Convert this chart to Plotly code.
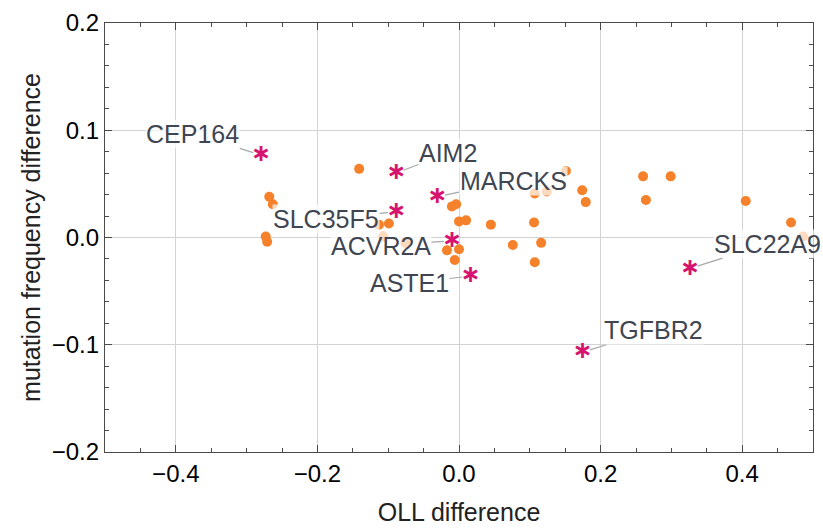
import plotly.graph_objects as go

# background genes (orange dots)
bg_x = [-0.141, -0.268, -0.263, -0.273, -0.271, -0.113, -0.099, -0.107, -0.076,
        -0.010, -0.004, 0.000, 0.010, 0.045, -0.017, 0.000, -0.006, 0.106, 0.076,
        0.116, 0.107, 0.151, 0.124, 0.107, 0.174, 0.179, 0.260, 0.299, 0.264,
        0.405, 0.469, 0.486]
bg_y = [0.064, 0.038, 0.031, 0.001, -0.004, 0.012, 0.013, 0.001, -0.005,
        0.029, 0.031, 0.015, 0.016, 0.012, -0.012, -0.011, -0.021, 0.014, -0.007,
        -0.005, -0.023, 0.062, 0.043, 0.041, 0.044, 0.033, 0.057, 0.057, 0.035,
        0.034, 0.014, 0.001]

# highlighted genes (asterisks)
genes = ["CEP164", "AIM2", "MARCKS", "SLC35F5", "ACVR2A", "ASTE1", "SLC22A9", "TGFBR2"]
hl_x = [-0.280, -0.089, -0.031, -0.089, -0.010, 0.016, 0.326, 0.174]
hl_y = [0.077, 0.060, 0.038, 0.024, -0.003, -0.036, -0.029, -0.107]

# label offsets (pixels) -- styling only
label_dx = [-68, 52, 76, -70, -71, -61, 78, 71]
label_dy = [-21, -20, -16, 7, 5, 7, -25, -22]

x_ticks = [-0.4, -0.2, 0.0, 0.2, 0.4]
y_ticks = [-0.2, -0.1, 0.0, 0.1, 0.2]

ORANGE = "#F5822A"
MAGENTA = "#D6136E"
LABEL = "#3F4652"
FONT = "Liberation Sans, Arial, Helvetica, sans-serif"

fig = go.Figure()
fig.add_trace(go.Scatter(x=bg_x, y=bg_y, mode="markers",
                         marker=dict(color=ORANGE, size=10, line=dict(width=0)),
                         showlegend=False, hoverinfo="skip"))
fig.add_trace(go.Scatter(x=hl_x, y=hl_y, mode="text", text=["\u2217"] * len(genes),
                         textposition="middle center",
                         textfont=dict(color=MAGENTA, size=24, family="DejaVu Sans",
                                       weight="bold"),
                         showlegend=False, hoverinfo="skip"))

for g, x, y, dx, dy in zip(genes, hl_x, hl_y, label_dx, label_dy):
    fig.add_annotation(x=x, y=y, text=g, showarrow=True, ax=dx, ay=dy,
                       axref="pixel", ayref="pixel",
                       arrowhead=0, arrowwidth=1.2, arrowcolor="#A8A8A8",
                       standoff=8, startstandoff=0,
                       bgcolor="rgba(255,255,255,0.7)", borderpad=0,
                       font=dict(family=FONT, size=25, color=LABEL))

axis_common = dict(showline=True, linecolor="#4A4A4A", linewidth=1.2, mirror="allticks",
                   ticks="inside", ticklen=7, tickcolor="#4A4A4A", tickwidth=1,
                   showgrid=True, gridcolor="#D3D3D3", gridwidth=1, zeroline=False,
                   tickfont=dict(family=FONT, size=24, color="black"),
                   layer="below traces")

fig.update_xaxes(range=[-0.5, 0.5], tickvals=x_ticks,
                 ticktext=["\u22120.4", "\u22120.2", "0.0", "0.2", "0.4"],
                 minor=dict(dtick=0.05, ticks="inside", ticklen=4, tickcolor="#4A4A4A",
                            showgrid=False),
                 title=dict(text="OLL difference", font=dict(family=FONT, size=25, color="#222222"),
                            standoff=17),
                 **axis_common)
fig.update_yaxes(range=[-0.2, 0.2], tickvals=y_ticks,
                 ticktext=["\u22120.2", "\u22120.1", "0.0", "0.1", "0.2"],
                 minor=dict(dtick=0.02, ticks="inside", ticklen=4, tickcolor="#4A4A4A",
                            showgrid=False),
                 title=dict(text="mutation frequency difference",
                            font=dict(family=FONT, size=25, color="#222222"), standoff=3),
                 **axis_common)

fig.update_layout(width=823, height=530, margin=dict(l=105, r=9, t=15, b=77),
                  plot_bgcolor="white", paper_bgcolor="white")

fig.write_html("out.html")
